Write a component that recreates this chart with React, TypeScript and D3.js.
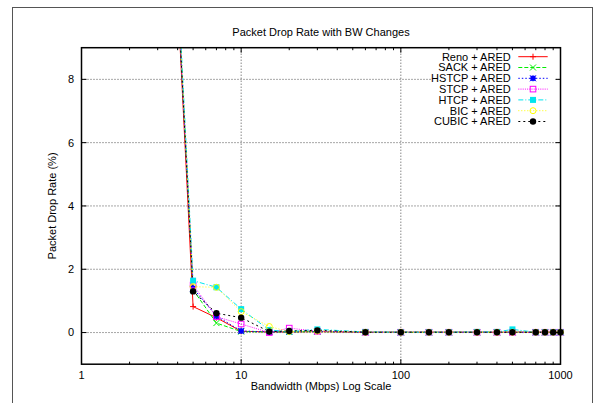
import React from "react";
import * as d3 from "d3";

const bandwidths = [4, 5, 7, 10, 15, 20, 30, 60, 100, 150, 200, 300, 400, 500, 700, 800, 900, 1000];
const reno = [10.6, 0.82, 0.47, 0.04, 0.02, 0.02, 0.03, 0.01, 0.01, 0.01, 0.01, 0.01, 0.01, 0.01, 0.01, 0.01, 0.01, 0.01];
const sack = [10.8, 1.35, 0.3, 0.03, 0.02, 0.02, 0.03, 0.01, 0.01, 0.01, 0.01, 0.01, 0.01, 0.01, 0.01, 0.01, 0.01, 0.01];
const hstcp = [10.7, 1.4, 0.52, 0.05, 0.02, 0.02, 0.04, 0.01, 0.01, 0.01, 0.01, 0.01, 0.01, 0.01, 0.01, 0.01, 0.01, 0.01];
const stcp = [10.9, 1.5, 0.5, 0.27, 0.0, 0.14, 0.04, 0.01, 0.01, 0.01, 0.01, 0.01, 0.01, 0.01, 0.01, 0.01, 0.01, 0.01];
const htcp = [11.2, 1.64, 1.43, 0.74, 0.08, 0.03, 0.1, 0.02, 0.01, 0.01, 0.01, 0.02, 0.02, 0.1, 0.01, 0.01, 0.01, 0.01];
const bic = [11.0, 1.45, 1.43, 0.66, 0.19, 0.03, 0.05, 0.01, 0.01, 0.01, 0.01, 0.01, 0.01, 0.01, 0.01, 0.01, 0.01, 0.01];
const cubic = [10.8, 1.3, 0.61, 0.47, 0.03, 0.05, 0.07, 0.01, 0.01, 0.01, 0.01, 0.01, 0.01, 0.01, 0.01, 0.01, 0.01, 0.01];

const seriesNames = ["Reno + ARED", "SACK + ARED", "HSTCP + ARED", "STCP + ARED", "HTCP + ARED", "BIC + ARED", "CUBIC + ARED"];
const seriesValues = [reno, sack, hstcp, stcp, htcp, bic, cubic];
const seriesColors = ["#ff0000", "#00ee00", "#0000ff", "#ff00ff", "#00e5ee", "#ffff00", "#000000"];
const seriesDash = ["none", "4,2", "1.5,2", "1,1.2", "5,2,1,2", "1,2", "2,3"];
const seriesMarker = ["plus", "cross", "star", "square", "fsquare", "circle", "fcircle"];

const xTicks = [1, 10, 100, 1000];
const yTicks = [0, 2, 4, 6, 8];

const title = "Packet Drop Rate with BW Changes";
const xLabel = "Bandwidth (Mbps) Log Scale";
const yLabel = "Packet Drop Rate (%)";

const W = 595;
const H = 403;
const L = 81.5, R = 560.5, T = 47.7, B = 364.2;
const FONT = "'Liberation Sans', Arial, Helvetica, sans-serif";

function Marker({ type, x, y, color }: { type: string; x: number; y: number; color: string }) {
  const s = 3;
  switch (type) {
    case "plus":
      return <path d={`M${x - s},${y}H${x + s}M${x},${y - s}V${y + s}`} stroke={color} strokeWidth={1} fill="none" />;
    case "cross":
      return <path d={`M${x - s},${y - s}L${x + s},${y + s}M${x - s},${y + s}L${x + s},${y - s}`} stroke={color} strokeWidth={1} fill="none" />;
    case "star":
      return (
        <g>
          <rect x={x - 2.5} y={y - 2.5} width={5} height={5} fill={color} />
          <path d={`M${x - s},${y - s}L${x + s},${y + s}M${x - s},${y + s}L${x + s},${y - s}M${x - s},${y}H${x + s}M${x},${y - s}V${y + s}`} stroke={color} strokeWidth={1} fill="none" />
        </g>
      );
    case "square":
      return <rect x={x - 2.8} y={y - 2.8} width={5.6} height={5.6} fill="none" stroke={color} strokeWidth={1} />;
    case "fsquare":
      return <rect x={x - 3} y={y - 3} width={6} height={6} fill={color} />;
    case "circle":
      return <circle cx={x} cy={y} r={3} fill="none" stroke={color} strokeWidth={1} />;
    case "fcircle":
      return <circle cx={x} cy={y} r={3.2} fill={color} />;
  }
  return null;
}

export default function App() {
  const x = d3.scaleLog().domain([1, 1000]).range([L, R]);
  const y = d3.scaleLinear().domain([-1, 9]).range([B, T]);

  const minorTicks: number[] = [];
  for (let d = 1; d < 1000; d *= 10) for (let k = 2; k <= 9; k++) minorTicks.push(d * k);

  const line = d3
    .line<number>()
    .x((_, i) => x(bandwidths[i]))
    .y((v) => y(v));

  const legendY0 = 56.7;
  const legendStep = 10.8;

  return (
    <div style={{ position: "fixed", left: 0, top: 0 }}>
      <svg width={W} height={H} style={{ display: "block", background: "#fff" }} fontFamily={FONT}>
        <defs>
          <clipPath id="plotclip">
            <rect x={L} y={T} width={R - L} height={B - T} />
          </clipPath>
        </defs>
        <rect x={12.5} y={7.5} width={580} height={H} fill="none" stroke="#555" strokeWidth={1} />

        {/* grid */}
        {xTicks.slice(1, -1).map((t) => (
          <line key={"gx" + t} x1={x(t)} x2={x(t)} y1={T} y2={B} stroke="#222" strokeWidth={0.8} strokeDasharray="1,2" />
        ))}
        {yTicks.map((t) => (
          <line key={"gy" + t} x1={L} x2={R} y1={y(t)} y2={y(t)} stroke="#222" strokeWidth={0.8} strokeDasharray="1,2" />
        ))}

        {/* series */}
        <g clipPath="url(#plotclip)">
          {seriesValues.map((vals, si) => (
            <path
              key={"l" + si}
              d={line(vals) || ""}
              fill="none"
              stroke={seriesColors[si]}
              strokeWidth={1}
              strokeDasharray={seriesDash[si]}
            />
          ))}
        </g>
        {seriesValues.map((vals, si) => (
          <g key={"m" + si}>
            {vals.map((v, i) =>
              v <= 9 && v >= -1 ? (
                <Marker key={i} type={seriesMarker[si]} x={x(bandwidths[i])} y={y(v)} color={seriesColors[si]} />
              ) : null
            )}
          </g>
        ))}

        {/* legend */}
        <rect x={432} y={50} width={124} height={77} fill="#fff" />
        {seriesNames.map((name, si) => {
          const ly = legendY0 + si * legendStep;
          return (
            <g key={"lg" + si}>
              <text x={510.7} y={ly} dy="0.35em" textAnchor="end" fontSize={11} fill="#000">
                {name}
              </text>
              <line x1={518.3} x2={547.7} y1={ly} y2={ly} stroke={seriesColors[si]} strokeWidth={1} strokeDasharray={seriesDash[si]} />
              <Marker type={seriesMarker[si]} x={533} y={ly} color={seriesColors[si]} />
            </g>
          );
        })}

        {/* ticks */}
        {xTicks.map((t) => (
          <g key={"tx" + t}>
            <line x1={x(t)} x2={x(t)} y1={B} y2={B - 5} stroke="#000" />
            <line x1={x(t)} x2={x(t)} y1={T} y2={T + 5} stroke="#000" />
            <text x={x(t)} y={379} textAnchor="middle" fontSize={11} fill="#000">
              {t}
            </text>
          </g>
        ))}
        {minorTicks.map((t) => (
          <g key={"mx" + t}>
            <line x1={x(t)} x2={x(t)} y1={B} y2={B - 2.5} stroke="#000" />
            <line x1={x(t)} x2={x(t)} y1={T} y2={T + 2.5} stroke="#000" />
          </g>
        ))}
        {yTicks.map((t) => (
          <g key={"ty" + t}>
            <line x1={L} x2={L + 5} y1={y(t)} y2={y(t)} stroke="#000" />
            <line x1={R} x2={R - 5} y1={y(t)} y2={y(t)} stroke="#000" />
            <text x={74} y={y(t)} dy="0.35em" textAnchor="end" fontSize={11} fill="#000">
              {t}
            </text>
          </g>
        ))}

        {/* border */}
        <rect x={L} y={T} width={R - L} height={B - T} fill="none" stroke="#000" strokeWidth={1.5} />

        {/* labels */}
        <text x={(L + R) / 2} y={36} textAnchor="middle" fontSize={11} fill="#000">
          {title}
        </text>
        <text x={(L + R) / 2} y={390} textAnchor="middle" fontSize={11} fill="#000">
          {xLabel}
        </text>
        <text
          transform={`translate(55.5,${(T + B) / 2}) rotate(-90)`}
          textAnchor="middle"
          fontSize={11}
          fill="#000"
        >
          {yLabel}
        </text>
      </svg>
    </div>
  );
}
